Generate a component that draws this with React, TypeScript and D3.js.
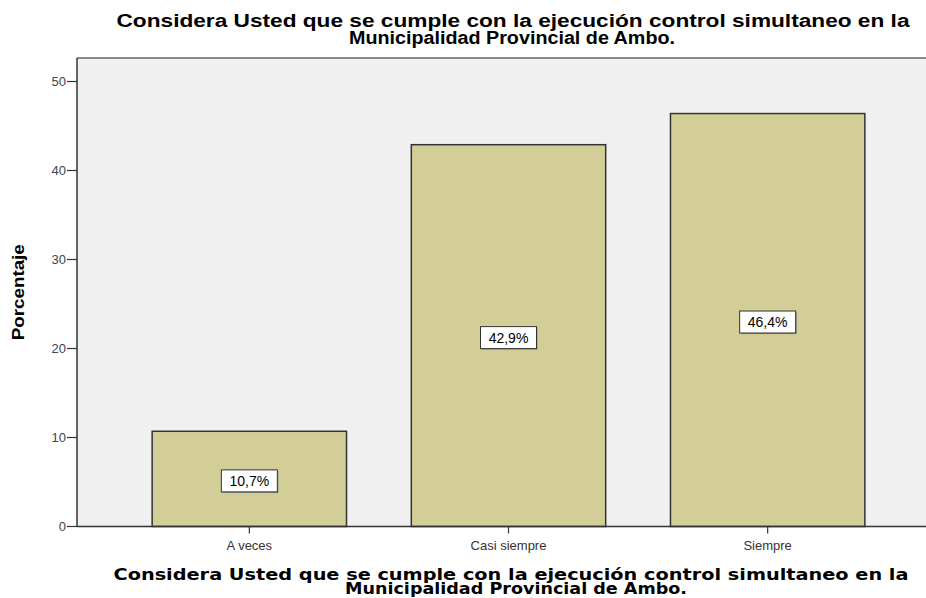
import React from 'react';
import * as d3 from 'd3';

const categories = ['A veces', 'Casi siempre', 'Siempre'];
const percentages = [10.7, 42.9, 46.4];
const valueLabels = ['10,7%', '42,9%', '46,4%'];
const yTicks = [0, 10, 20, 30, 40, 50];
const titleLines = [
    'Considera Usted que se cumple con la ejecución control simultaneo en la',
    'Municipalidad Provincial de Ambo.'
];

const width = 926;
const height = 598;
const plot = { left: 77, top: 58, right: 940, bottom: 526.5 };

const font = 'Arial, "Liberation Sans", Helvetica, sans-serif';
const wideFont = '"DejaVu Sans", Verdana, sans-serif';
const narrowFont = '"Liberation Sans Narrow", "Arial Narrow", Arial, sans-serif';

export default function App() {
    const x = d3.scaleBand<string>()
        .domain(categories)
        .range([plot.left, plot.right])
        .paddingInner(0.25)
        .paddingOuter(0.29);

    const y = d3.scaleLinear().domain([0, 50]).range([plot.bottom, 81.5]);

    return (
        <svg width={width} height={height} style={{ position: 'absolute', left: 0, top: 0 }}
            fontFamily={font}>
            <rect x={0} y={0} width={width} height={height} fill="#fff" />

            {/* title */}
            <text x={513} y={27} textAnchor="middle" fontSize={18} fontWeight="bold" fill="#000"
                textLength={793} lengthAdjust="spacingAndGlyphs">{titleLines[0]}</text>
            <text x={512} y={44} textAnchor="middle" fontSize={18} fontWeight="bold" fill="#000"
                textLength={326} lengthAdjust="spacingAndGlyphs">{titleLines[1]}</text>

            {/* plot background */}
            <rect x={plot.left} y={plot.top} width={plot.right - plot.left} height={plot.bottom - plot.top}
                fill="#f0f0f0" />
            <line x1={plot.left} x2={width} y1={plot.top} y2={plot.top} stroke="#8a8a8a" strokeWidth={2} />

            {/* bars */}
            {categories.map((c, i) => (
                <rect key={c} x={x(c)} y={y(percentages[i])} width={x.bandwidth()}
                    height={y(0) - y(percentages[i])}
                    fill="#d3ce97" stroke="#333" strokeWidth={1.5} />
            ))}

            {/* value labels */}
            {categories.map((c, i) => {
                const cx = (x(c) as number) + x.bandwidth() / 2;
                const cy = (y(percentages[i]) + y(0)) / 2 + 2;
                return (
                    <g key={c}>
                        <rect x={cx - 28 + 1} y={cy - 11 + 1} width={56} height={22} fill="#888" />
                        <rect x={cx - 28} y={cy - 11} width={56} height={22} fill="#fff" stroke="#333" strokeWidth={1} />
                        <text x={cx} y={cy + 5} textAnchor="middle" fontSize={14} fill="#000">{valueLabels[i]}</text>
                    </g>
                );
            })}

            {/* axes */}
            <line x1={plot.left} x2={plot.left} y1={plot.top} y2={plot.bottom} stroke="#333" strokeWidth={1.5} />
            <line x1={plot.left} x2={width} y1={plot.bottom} y2={plot.bottom} stroke="#333" strokeWidth={1.5} />
            {yTicks.map(t => (
                <g key={t}>
                    <line x1={plot.left - 10} x2={plot.left} y1={y(t)} y2={y(t)} stroke="#333" strokeWidth={1.2} />
                    <text x={plot.left - 11} y={y(t) + 4.5} textAnchor="end" fontSize={13} fill="#444">{t}</text>
                </g>
            ))}
            {categories.map(c => {
                const cx = (x(c) as number) + x.bandwidth() / 2;
                return (
                    <g key={c}>
                        <line x1={cx} x2={cx} y1={plot.bottom} y2={plot.bottom + 7} stroke="#333" strokeWidth={1.2} />
                        <text x={cx} y={plot.bottom + 23} textAnchor="middle" fontSize={13} fill="#333">{c}</text>
                    </g>
                );
            })}

            {/* y title */}
            <text transform={`translate(24,${(plot.top + plot.bottom) / 2}) rotate(-90)`} textAnchor="middle"
                fontFamily={narrowFont} fontSize={17} fontWeight="bold" fill="#000" textLength={96}
                lengthAdjust="spacingAndGlyphs">Porcentaje</text>

            {/* x title */}
            <text x={511} y={580} textAnchor="middle" fontFamily={wideFont} fontSize={15} fontWeight="bold"
                fill="#000" textLength={795} lengthAdjust="spacingAndGlyphs">{titleLines[0]}</text>
            <text x={516} y={594} textAnchor="middle" fontFamily={wideFont} fontSize={15} fontWeight="bold"
                fill="#000" textLength={342} lengthAdjust="spacingAndGlyphs">{titleLines[1]}</text>
        </svg>
    );
}
